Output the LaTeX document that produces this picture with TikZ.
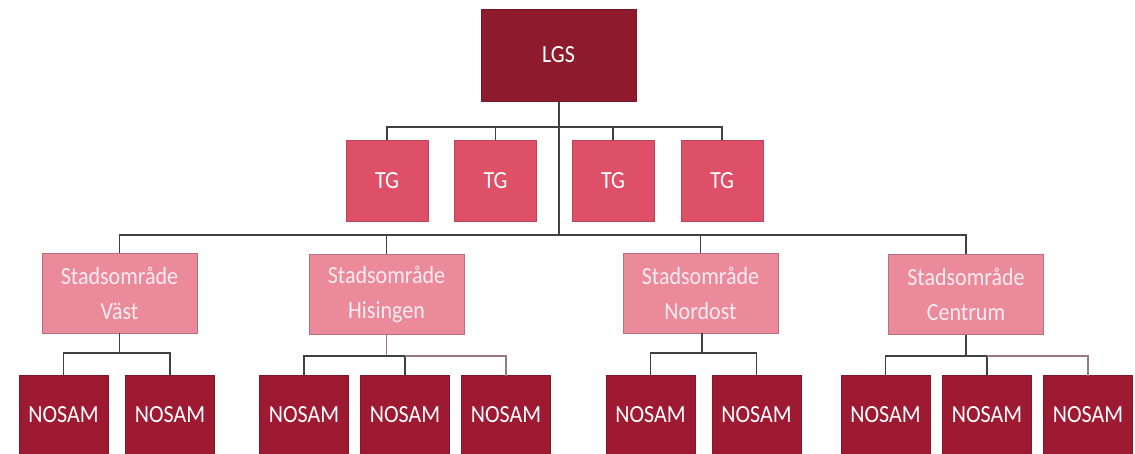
\documentclass[tikz,border=0pt]{standalone}
\usepackage{fontspec}
\setmainfont{Carlito}
\definecolor{lgsred}{RGB}{142,26,46}
\definecolor{nosamred}{RGB}{158,26,50}
\definecolor{tgred}{RGB}{222,80,104}
\definecolor{stadpink}{RGB}{234,138,154}
\definecolor{stadtext}{RGB}{253,236,240}
\definecolor{linegray}{RGB}{64,64,64}
\definecolor{lightline}{RGB}{150,120,126}
\tikzset{
  box/.style={rectangle, inner sep=0pt, outer sep=0pt, align=center, text=white,
    font=\fontsize{22}{35}\selectfont, line width=0.8pt},
  lgsbox/.style={box, fill=lgsred, draw=lgsred!85!black, minimum width=155pt, minimum height=92pt},
  tgbox/.style={box, fill=tgred, draw=tgred!85!black, minimum width=82pt, minimum height=81pt},
  stadbox/.style={box, fill=stadpink, draw=stadpink!80!black, text=stadtext, minimum width=155pt, minimum height=80pt},
  nosambox/.style={box, fill=nosamred, draw=nosamred!85!black, minimum width=89pt, minimum height=79pt},
  conn/.style={draw=linegray, line width=1.4pt},
  lconn/.style={draw=lightline, line width=1.4pt}
}
\newcommand{\vs}[1]{\scalebox{1}[1.12]{#1}}
\begin{document}
\begin{tikzpicture}[x=1pt,y=-1pt]
\useasboundingbox (0,0) rectangle (1135,454);
% top
\node[lgsbox] (lgs) at (558.5,55) {\vs{LGS}};
\node[tgbox] (tg1) at (387,180.5) {\vs{TG}};
\node[tgbox] (tg2) at (495.5,180.5) {\vs{TG}};
\node[tgbox] (tg3) at (613,180.5) {\vs{TG}};
\node[tgbox] (tg4) at (722,180.5) {\vs{TG}};
% districts
\node[stadbox] (vast) at (119.5,293) {\vs{Stadsområde}\\\vs{Väst}};
\node[stadbox] (hising) at (386.5,294) {\vs{Stadsområde}\\\vs{Hisingen}};
\node[stadbox] (nordost) at (700.5,293) {\vs{Stadsområde}\\\vs{Nordost}};
\node[stadbox] (centrum) at (966,294.5) {\vs{Stadsområde}\\\vs{Centrum}};
% NOSAM
\node[nosambox] (v1) at (63.5,415) {\vs{NOSAM}};
\node[nosambox] (v2) at (170,415) {\vs{NOSAM}};
\node[nosambox] (h1) at (304,415) {\vs{NOSAM}};
\node[nosambox] (h2) at (405,415) {\vs{NOSAM}};
\node[nosambox] (h3) at (506,415) {\vs{NOSAM}};
\node[nosambox] (n1) at (650.5,415) {\vs{NOSAM}};
\node[nosambox] (n2) at (756.5,415) {\vs{NOSAM}};
\node[nosambox] (c1) at (885.5,415) {\vs{NOSAM}};
\node[nosambox] (c2) at (987,415) {\vs{NOSAM}};
\node[nosambox] (c3) at (1088,415) {\vs{NOSAM}};
% bus coordinates
\coordinate (tgbus) at (559,127);
\coordinate (stbus) at (559,235);
\coordinate (vbus) at (119.5,353);
\coordinate (hbus) at (386.5,356);
\coordinate (nbus) at (702,353);
\coordinate (cbus) at (966,356);
% connectors
\draw[conn] (lgs.south -| stbus) -- (stbus);
\draw[conn] (tg1.north) |- (tgbus) -| (tg4.north);
\draw[conn] (tg2.north) -- (tg2.north |- tgbus);
\draw[conn] (tg3.north) -- (tg3.north |- tgbus);
\draw[conn] (vast.north) |- (stbus) -| (centrum.north);
\draw[conn] (hising.north) -- (hising.north |- stbus);
\draw[conn] (nordost.north) -- (nordost.north |- stbus);
% Väst
\draw[conn] (vast.south) -- (vbus);
\draw[conn] (v1.north) |- (vbus) -| (v2.north);
% Hisingen
\draw[lconn] (hising.south) -- (hbus);
\draw[conn] (h1.north) |- (hbus) -| (h2.north);
\draw[lconn] (h2.north |- hbus) -| (h3.north);
% Nordost
\draw[conn] (nordost.south -| nbus) -- (nbus);
\draw[conn] (n1.north) |- (nbus) -| (n2.north);
% Centrum
\draw[conn] (centrum.south) -- (cbus);
\draw[conn] (c1.north) |- (cbus) -| (c2.north);
\draw[lconn] (c2.north |- cbus) -| (c3.north);
\end{tikzpicture}
\end{document}
